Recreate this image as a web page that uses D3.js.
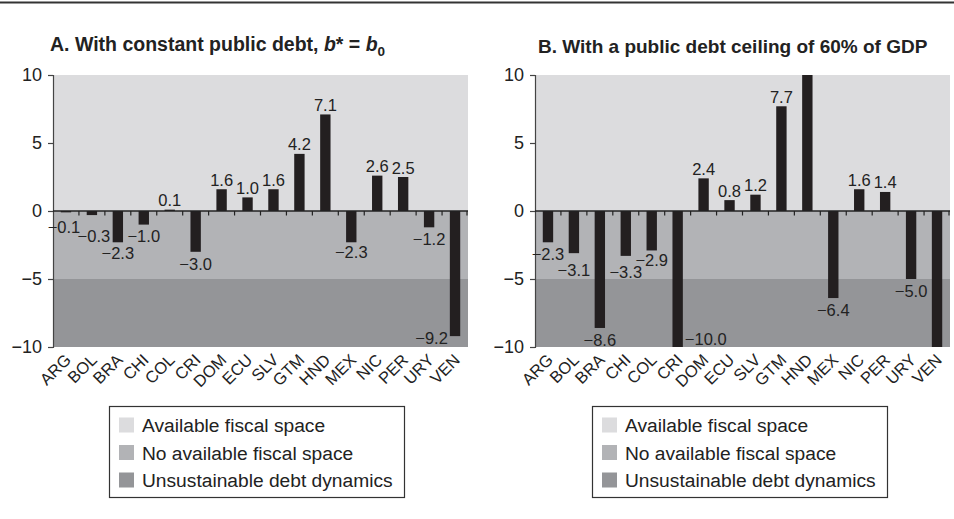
<!DOCTYPE html>
<html>
<head>
<meta charset="utf-8">
<script src="https://cdn.jsdelivr.net/npm/d3@7"></script>
<style>
  html, body { margin: 0; padding: 0; background: #fff; }
  svg { display: block; font-family: "Liberation Sans", Arial, Helvetica, sans-serif; }
</style>
</head>
<body>
<svg id="chart" width="954" height="519"></svg>
<script>
// Fiscal space by country, percent of GDP
const countries = ["ARG", "BOL", "BRA", "CHI", "COL", "CRI", "DOM", "ECU", "SLV", "GTM", "HND", "MEX", "NIC", "PER", "URY", "VEN"];

// Panel A: constant public debt
const constantDebt = [-0.1, -0.3, -2.3, -1.0, 0.1, -3.0, 1.6, 1.0, 1.6, 4.2, 7.1, -2.3, 2.6, 2.5, -1.2, -9.2];

// Panel B: debt ceiling of 60% of GDP (HND and VEN run past the axis and carry no label)
const debtCeiling = [-2.3, -3.1, -8.6, -3.3, -2.9, -10.0, 2.4, 0.8, 1.2, 7.7, 10.0, -6.4, 1.6, 1.4, -5.0, -10.0];
const ceilingUnlabeled = ["HND", "VEN"];

const yTicks = [10, 5, 0, -5, -10];
const yDomain = [-10, 10];

// Background zones
const zones = [
  { name: "Available fiscal space", from: 0, to: 10, color: "#dcdcde" },
  { name: "No available fiscal space", from: -5, to: 0, color: "#b2b3b6" },
  { name: "Unsustainable debt dynamics", from: -10, to: -5, color: "#949598" }
];

const svg = d3.select("#chart");
const fmt = v => (v < 0 ? "\u2212" : "") + Math.abs(v).toFixed(1);
const clampV = v => Math.max(yDomain[0], Math.min(yDomain[1], v));

// Top rule
svg.append("rect").attr("x", 0).attr("y", 1.5).attr("width", 954).attr("height", 2).attr("fill", "#333");

function drawPanel(opts) {
  const { left, right, top, bottom, values, unlabeled, sideLabels, nudge } = opts;
  const g = svg.append("g");

  const x = d3.scaleBand().domain(countries).range([left, right]);
  const y = d3.scaleLinear().domain(yDomain).range([bottom, top]);
  const barW = x.bandwidth() * 0.4;

  // zones
  g.selectAll("rect.zone").data(zones).join("rect")
    .attr("class", "zone")
    .attr("x", left).attr("width", right - left)
    .attr("y", d => y(d.to)).attr("height", d => y(d.from) - y(d.to))
    .attr("fill", d => d.color);

  // bars
  const data = countries.map((c, i) => ({ c, v: values[i] }));
  g.selectAll("rect.bar").data(data).join("rect")
    .attr("class", "bar")
    .attr("x", d => x(d.c) + (x.bandwidth() - barW) / 2)
    .attr("width", barW)
    .attr("y", d => Math.min(y(clampV(d.v)), y(0)))
    .attr("height", d => Math.abs(y(clampV(d.v)) - y(0)))
    .attr("fill", "#231f20");

  // y axis
  const yAxis = d3.axisLeft(y).tickValues(yTicks).tickSize(5).tickPadding(6)
    .tickFormat(d => (d < 0 ? "\u2212" : "") + Math.abs(d));
  const ya = g.append("g").attr("transform", `translate(${left},0)`).call(yAxis);
  ya.select(".domain").attr("stroke", "#444").attr("stroke-width", 1.2);
  ya.selectAll(".tick line").attr("stroke", "#444").attr("stroke-width", 1.2);
  ya.selectAll(".tick text").attr("font-size", 18).attr("fill", "#222")
    .attr("font-family", "'Liberation Sans', Arial, sans-serif");

  // zero line with category boundary ticks
  const zeroY = y(0);
  g.append("line").attr("x1", left).attr("x2", right).attr("y1", zeroY).attr("y2", zeroY)
    .attr("stroke", "#222").attr("stroke-width", 1.5);
  g.selectAll("line.bt").data(countries.slice(1)).join("line")
    .attr("class", "bt")
    .attr("x1", d => x(d)).attr("x2", d => x(d))
    .attr("y1", zeroY).attr("y2", zeroY + 4.5)
    .attr("stroke", "#222").attr("stroke-width", 1.2);
  g.append("line").attr("x1", right - 1).attr("x2", right - 1).attr("y1", zeroY).attr("y2", zeroY + 4.5)
    .attr("stroke", "#222").attr("stroke-width", 1.2);

  // category labels (rotated)
  g.selectAll("text.cat").data(countries).join("text")
    .attr("class", "cat")
    .attr("transform", d => `translate(${x(d) + x.bandwidth() / 2 + 6},${bottom + 14}) rotate(-45)`)
    .attr("text-anchor", "end")
    .attr("font-size", 16.5)
    .attr("fill", "#222")
    .text(d => d);

  // value labels
  const labeled = data.filter(d => !unlabeled.includes(d.c));
  g.selectAll("text.val").data(labeled).join("text")
    .attr("class", "val")
    .attr("font-size", 16.5)
    .attr("fill", "#222")
    .each(function (d) {
      const t = d3.select(this);
      const cx = x(d.c) + x.bandwidth() / 2;
      const side = sideLabels[d.c];
      const n = nudge[d.c] || [0, 0];
      if (side === "left") {
        t.attr("x", cx - barW / 2 - 2).attr("y", y(d.v) + 8).attr("text-anchor", "end");
      } else if (side === "right") {
        t.attr("x", cx + barW / 2 + 2).attr("y", y(clampV(d.v)) - 2).attr("text-anchor", "start");
      } else if (d.v >= 0) {
        t.attr("x", cx + n[0]).attr("y", y(d.v) - 3.5 + n[1]).attr("text-anchor", "middle");
      } else {
        t.attr("x", cx + n[0]).attr("y", y(d.v) + 18 + n[1]).attr("text-anchor", "middle");
      }
      t.text(fmt(d.v));
    });

  // legend
  const lg = g.append("g").attr("transform", `translate(${opts.legendX},406)`);
  lg.append("rect").attr("x", 0.5).attr("y", 0.5).attr("width", 295).attr("height", 91)
    .attr("fill", "#fff").attr("stroke", "#333").attr("stroke-width", 1.2);
  const items = lg.selectAll("g.item").data(zones).join("g")
    .attr("class", "item")
    .attr("transform", (d, i) => `translate(10,${11.5 + i * 27.5})`);
  items.append("rect").attr("width", 15).attr("height", 15).attr("fill", d => d.color);
  items.append("text").attr("x", 23).attr("y", 14.5).attr("font-size", 19.2).attr("fill", "#222").text(d => d.name);

  return g;
}

// label nudges are [dx, dy] pixel offsets that keep neighbouring labels apart
drawPanel({
  left: 53, right: 468, top: 75, bottom: 347,
  values: constantDebt, unlabeled: [], sideLabels: { VEN: "left" },
  nudge: { ARG: [-2, 3], BOL: [2, 9], BRA: [0, -1], CHI: [0, -1], MEX: [0, -2] }, legendX: 109
});

drawPanel({
  left: 535, right: 950, top: 75, bottom: 347,
  values: debtCeiling, unlabeled: ceilingUnlabeled, sideLabels: { CRI: "right" },
  nudge: { BOL: [0, 5], CHI: [0, 4], COL: [0, -2] }, legendX: 592
});

// Panel titles
const tA = svg.append("text").attr("x", 50).attr("y", 51).attr("font-size", 19.5).attr("font-weight", "bold").attr("fill", "#222");
tA.append("tspan").text("A. With constant public debt, ");
tA.append("tspan").attr("font-style", "italic").text("b");
tA.append("tspan").text("* = ");
tA.append("tspan").attr("font-style", "italic").text("b");
tA.append("tspan").attr("font-size", 13.5).attr("dy", 4.5).text("0");

svg.append("text").attr("x", 538).attr("y", 53).attr("font-size", 19).attr("font-weight", "bold").attr("fill", "#222")
  .text("B. With a public debt ceiling of 60% of GDP");
</script>
</body>
</html>
